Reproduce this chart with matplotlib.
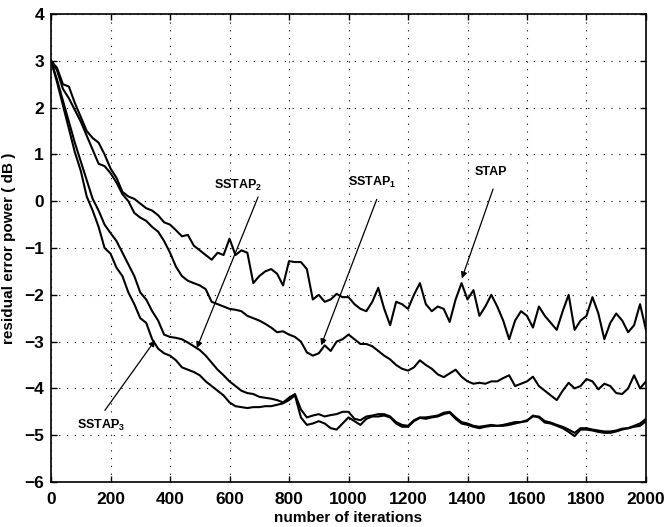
import numpy as np
import matplotlib
matplotlib.use("Agg")
import matplotlib.pyplot as plt

plt.rcParams['font.family'] = ['Liberation Sans', 'DejaVu Sans']
plt.rcParams['mathtext.fontset'] = 'custom'
plt.rcParams['mathtext.rm'] = 'Liberation Sans:bold'
plt.rcParams['mathtext.bf'] = 'Liberation Sans:bold'

iterations = np.arange(0, 2001, 20)

stap = [3.0, 2.85, 2.5, 2.45, 2.1, 1.8, 1.5, 1.35, 1.25, 1.0,
        0.7, 0.5, 0.2, 0.1, 0.05, -0.05, -0.15, -0.2, -0.3, -0.45,
        -0.5, -0.62, -0.75, -0.72, -0.95, -1.05, -1.15, -1.25, -1.1, -1.15,
        -0.8, -1.15, -1.05, -1.1, -1.75, -1.6, -1.5, -1.45, -1.55, -1.8,
        -1.28, -1.3, -1.3, -1.45, -2.1, -2.0, -2.15, -2.1, -1.98, -2.05,
        -2.05, -2.2, -2.3, -2.35, -2.15, -1.85, -2.3, -2.65, -2.15, -2.2,
        -2.3, -2.0, -1.75, -2.2, -2.35, -2.25, -2.3, -2.58, -2.1, -1.75,
        -2.1, -1.9, -2.45, -2.25, -2.0, -2.25, -2.55, -2.95, -2.55, -2.35,
        -2.45, -2.7, -2.25, -2.45, -2.6, -2.75, -2.35, -2.0, -2.75, -2.55,
        -2.45, -2.05, -2.4, -2.95, -2.6, -2.4, -2.55, -2.8, -2.65, -2.2,
        -2.75]

sstap1 = [3.0, 2.8, 2.4, 2.2, 1.95, 1.7, 1.4, 1.1, 0.8, 0.75,
          0.6, 0.4, 0.15, 0.0, -0.25, -0.35, -0.42, -0.55, -0.65, -0.85,
          -1.1, -1.4, -1.6, -1.7, -1.75, -1.8, -1.88, -2.15, -2.2, -2.25,
          -2.3, -2.32, -2.35, -2.45, -2.5, -2.55, -2.62, -2.7, -2.8, -2.78,
          -2.85, -2.9, -3.0, -3.23, -3.3, -3.25, -3.08, -3.2, -3.0, -2.95,
          -2.85, -2.95, -3.05, -3.05, -3.1, -3.2, -3.3, -3.38, -3.5, -3.58,
          -3.62, -3.55, -3.4, -3.5, -3.58, -3.7, -3.76, -3.68, -3.6, -3.75,
          -3.85, -3.9, -3.88, -3.9, -3.85, -3.85, -3.78, -3.72, -3.95, -3.9,
          -3.85, -3.75, -3.95, -4.05, -4.15, -4.25, -4.05, -3.88, -4.0, -3.95,
          -3.8, -3.85, -4.02, -3.9, -3.95, -4.1, -4.12, -4.0, -3.72, -4.0,
          -3.85]

sstap2 = [3.0, 2.6, 2.15, 1.7, 1.25, 0.85, 0.45, 0.05, -0.2, -0.5,
          -0.68, -0.85, -1.1, -1.35, -1.6, -1.95, -2.1, -2.35, -2.55, -2.85,
          -2.9, -2.92, -2.95, -3.02, -3.1, -3.18, -3.3, -3.45, -3.6, -3.72,
          -3.85, -3.95, -4.05, -4.1, -4.12, -4.18, -4.2, -4.22, -4.25, -4.3,
          -4.2, -4.12, -4.45, -4.62, -4.58, -4.55, -4.6, -4.57, -4.55, -4.5,
          -4.5, -4.65, -4.68, -4.6, -4.58, -4.55, -4.55, -4.6, -4.72, -4.78,
          -4.8, -4.68, -4.62, -4.62, -4.6, -4.58, -4.52, -4.5, -4.62, -4.72,
          -4.75, -4.8, -4.82, -4.8, -4.78, -4.8, -4.78, -4.75, -4.72, -4.72,
          -4.68, -4.6, -4.6, -4.7, -4.73, -4.78, -4.82, -4.88, -4.95, -4.85,
          -4.85, -4.88, -4.9, -4.92, -4.92, -4.9, -4.86, -4.85, -4.8, -4.75,
          -4.65]

sstap3 = [3.0, 2.55, 2.05, 1.55, 1.05, 0.65, 0.1, -0.2, -0.55, -1.0,
          -1.12, -1.42, -1.6, -1.95, -2.2, -2.5, -2.6, -2.95, -3.15, -3.25,
          -3.3, -3.4, -3.55, -3.6, -3.65, -3.72, -3.85, -3.95, -4.05, -4.15,
          -4.3, -4.38, -4.4, -4.42, -4.4, -4.4, -4.38, -4.38, -4.35, -4.32,
          -4.25, -4.15, -4.62, -4.78, -4.75, -4.7, -4.75, -4.85, -4.88, -4.75,
          -4.62, -4.7, -4.78, -4.65, -4.6, -4.6, -4.58, -4.62, -4.75, -4.82,
          -4.82, -4.7, -4.63, -4.65, -4.62, -4.6, -4.55, -4.52, -4.65, -4.75,
          -4.78, -4.82, -4.85, -4.82, -4.8, -4.8, -4.8, -4.78, -4.75, -4.72,
          -4.7, -4.58, -4.62, -4.73, -4.75, -4.8, -4.85, -4.93, -5.02, -4.88,
          -4.88, -4.9, -4.93, -4.95, -4.95, -4.92, -4.88, -4.85, -4.82, -4.8,
          -4.7]

x_ticks = [0, 200, 400, 600, 800, 1000, 1200, 1400, 1600, 1800, 2000]
y_ticks = [-6, -5, -4, -3, -2, -1, 0, 1, 2, 3, 4]

fig = plt.figure(figsize=(6.67, 5.27), dpi=100)
ax = fig.add_axes([0.0765, 0.0854, 0.892, 0.888])

for series in (stap, sstap1, sstap2, sstap3):
    ax.plot(iterations, series, color='black', lw=1.5)

ax.set_xlim(0, 2000)
ax.set_ylim(-6, 4)
ax.set_xticks(x_ticks)
ax.set_yticks(y_ticks)
ax.set_xticklabels([str(t) for t in x_ticks], fontsize=12.5, fontweight='bold')
ax.set_yticklabels([str(t).replace('-', '\u2212') for t in y_ticks], fontsize=12.5, fontweight='bold')
ax.tick_params(direction='in', top=True, right=True, length=4, width=1)
ax.tick_params(axis='x', pad=7)
ax.tick_params(axis='y', pad=5)
ax.grid(True, color='black', linestyle=(0, (1, 6)), linewidth=0.8)
for s in ax.spines.values():
    s.set_linewidth(1.2)

ax.set_xlabel('number of iterations', fontsize=11, fontweight='bold', labelpad=3)
ax.set_ylabel('residual error power ( dB )', fontsize=11, fontweight='bold', labelpad=6)

arrow = dict(arrowstyle='-|>', color='black', lw=0.9, mutation_scale=9, shrinkA=0, shrinkB=0)
ax.annotate('', xy=(490, -3.14), xytext=(696, 0.09), arrowprops=arrow)
ax.text(630, 0.34, r'$\mathbf{SSTAP_2}$', fontsize=9, ha='center', va='center')
ax.annotate('', xy=(908, -3.08), xytext=(1095, 0.04), arrowprops=arrow)
ax.text(1080, 0.4, r'$\mathbf{SSTAP_1}$', fontsize=9, ha='center', va='center')
ax.annotate('', xy=(1381, -1.65), xytext=(1486, 0.26), arrowprops=arrow)
ax.text(1478, 0.62, 'STAP', fontsize=9, fontweight='bold', ha='center', va='center')
ax.annotate('', xy=(350, -2.97), xytext=(181, -4.47), arrowprops=arrow)
ax.text(170, -4.79, r'$\mathbf{SSTAP_3}$', fontsize=9, ha='center', va='center')

fig.savefig('out.png', dpi=100)
